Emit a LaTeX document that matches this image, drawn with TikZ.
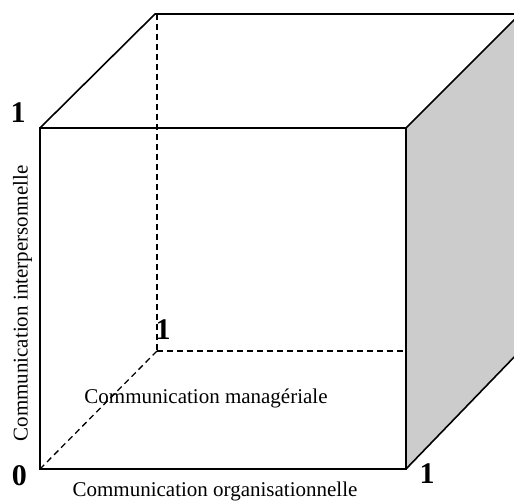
\documentclass[tikz,border=0pt]{standalone}
\usepackage{fontspec}
\setmainfont{Liberation Serif}
\begin{document}
\begin{tikzpicture}[x=1pt,y=1pt,
  edge/.style={line width=1.6pt, line join=miter},
  hidden/.style={line width=1.3pt, dash pattern=on 6pt off 4pt},
  lbl/.style={font=\fontsize{21}{25}\selectfont, inner sep=0pt},
  num/.style={font=\fontsize{30}{32}\selectfont\bfseries, inner sep=0pt}]
\useasboundingbox (0,0) rectangle (514,502);
\clip (0,0) rectangle (514,502);
% front face corners
\coordinate (A) at (40,33);
\coordinate (B) at (406,33);
\coordinate (C) at (406,374);
\coordinate (D) at (40,374);
% back face corners
\coordinate (E) at (155,488);
\coordinate (F) at (520,488);
\coordinate (G) at (520,151);
\coordinate (H) at (157,151);
% hidden edges
\draw[hidden] (157,488) -- (H);
\draw[hidden] (A) -- (H);
\draw[hidden] (H) -- (G);
% shaded right face
\fill[gray!40] (B) -- (G) -- (F) -- (C) -- cycle;
% visible edges
\draw[edge] (A) -- (B) -- (C) -- (D) -- cycle;
\draw[edge] (D) -- (E) -- (F);
\draw[edge] (C) -- (F);
\draw[edge] (B) -- (G);
% labels
\node[num] (n1) at (18,389) {1};
\node[num] (n0) at (19.5,26) {0};
\node[num] (n2) at (427,28) {1};
\node[num] (n3) at (163,172) {1};
\node[lbl, rotate=90] (ly) at (22.5,198.5) {Communication interpersonnelle};
\node[lbl, anchor=base] (lx) at (215,5.5) {Communication organisationnelle};
\node[lbl, anchor=base] (lz) at (206,98) {Communication managériale};
\end{tikzpicture}
\end{document}
